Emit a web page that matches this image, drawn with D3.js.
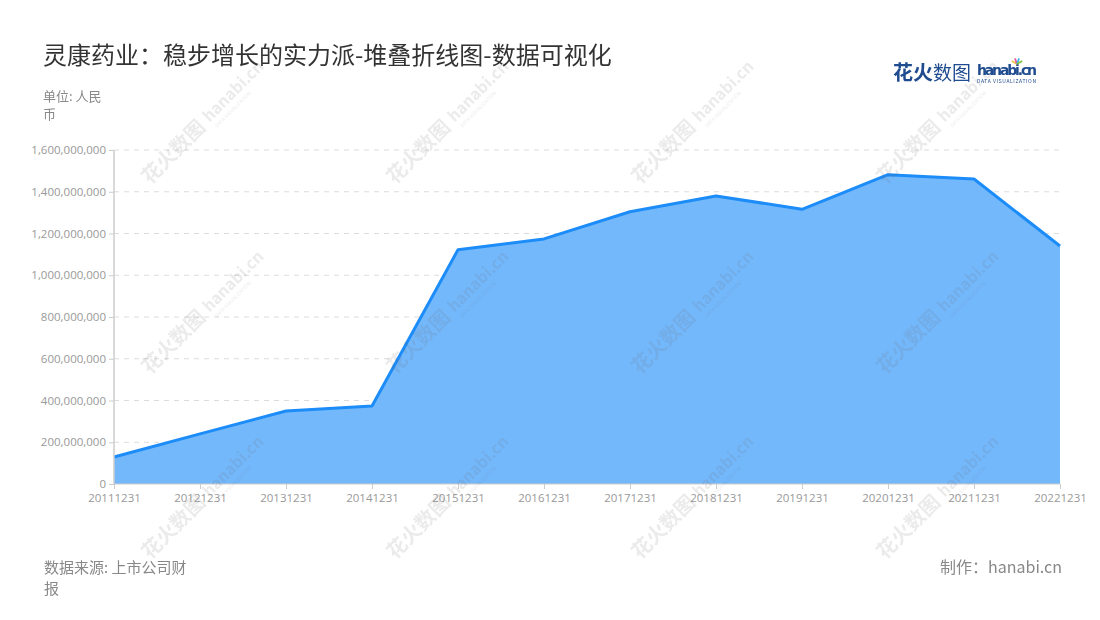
<!DOCTYPE html>
<html><head><meta charset="utf-8">
<script src="https://cdn.jsdelivr.net/npm/d3@7"></script>
<style>body{margin:0;background:#fff;font-family:"Noto Sans CJK SC","Noto Sans",sans-serif;}</style>
</head><body><svg id="c" width="1100" height="620"></svg>
<script>
const categories = ["20111231","20121231","20131231","20141231","20151231","20161231","20171231","20181231","20191231","20201231","20211231","20221231"];
const values = [129000000,240000000,350000000,374000000,1122000000,1174000000,1304000000,1380000000,1316000000,1482000000,1461000000,1140000000];
const yTicks = [0,200000000,400000000,600000000,800000000,1000000000,1200000000,1400000000,1600000000];

const svg = d3.select("#c");
const m={l:114,r:1060,t:150,b:484};
const x = d3.scalePoint().domain(categories).range([m.l,m.r]);
const y = d3.scaleLinear().domain([0,1600000000]).range([m.b,m.t]);

// grid
svg.append("g").selectAll("line").data(yTicks.filter(d=>d>0)).join("line")
  .attr("x1",m.l).attr("x2",m.r).attr("y1",d=>y(d)).attr("y2",d=>y(d))
  .attr("stroke","#dcdcdc").attr("stroke-dasharray","5,5");

// area and line
svg.append("path").datum(values).attr("fill","#74b8fc")
  .attr("d",d3.area().x((d,i)=>x(categories[i])).y0(y(0)).y1(d=>y(d)));
svg.append("path").datum(values).attr("fill","none").attr("stroke","#1c8cf8").attr("stroke-width",3).attr("stroke-linejoin","round")
  .attr("d",d3.line().x((d,i)=>x(categories[i])).y(d=>y(d)));

// y axis
const ya = svg.append("g").attr("transform",`translate(${m.l},0)`)
  .call(d3.axisLeft(y).tickValues(yTicks).tickSize(5).tickPadding(3).tickFormat(d3.format(",")));
ya.select(".domain").attr("stroke","#cccccc").attr("stroke-width",1.5).attr("d",`M0,${m.b}V${m.t}`);
ya.selectAll(".tick line").attr("stroke","#cccccc");
ya.selectAll("text").attr("fill","#999").attr("font-size",11.5).attr("font-family","'Open Sans','Noto Sans',sans-serif");

// x axis
const xa = svg.append("g").attr("transform",`translate(0,${m.b})`)
  .call(d3.axisBottom(x).tickSize(5).tickPadding(5));
xa.select(".domain").attr("stroke","#cccccc").attr("d",`M${m.l},0H${m.r}`);
xa.selectAll(".tick line").attr("stroke","#cccccc");
xa.selectAll("text").attr("fill","#999").attr("font-size",11.5).attr("font-family","'Open Sans','Noto Sans',sans-serif");

// watermarks (on top, faint)
const wm = svg.append("g").attr("opacity",0.13).attr("pointer-events","none");
[[150,185],[395,185],[640,185],[885,185],[150,375],[395,375],[640,375],[885,375],[150,560],[395,560],[640,560],[885,560]].forEach(([cx,cy])=>{
  const g = wm.append("g").attr("transform",`translate(${cx},${cy}) rotate(-45)`);
  g.append("text").attr("x",0).attr("y",0).attr("font-size",20).attr("font-weight","bold").attr("fill","#666").text("花火数图");
  g.append("text").attr("x",86).attr("y",-2).attr("font-size",16).attr("font-weight","bold").attr("fill","#666").text("hanabi.cn");
  g.append("text").attr("x",88).attr("y",7).attr("font-size",5).attr("fill","#666").text("DATA VISUALIZATION");
});

// title
svg.append("text").attr("x",43).attr("y",64).attr("font-size",24).attr("fill","#333").text("灵康药业：稳步增长的实力派-堆叠折线图-数据可视化");
svg.append("text").attr("x",43).attr("y",101).attr("font-size",13).attr("fill","#888").text("单位: 人民");
svg.append("text").attr("x",43).attr("y",119).attr("font-size",13).attr("fill","#888").text("币");

// footer
svg.append("text").attr("x",44).attr("y",573).attr("font-size",15).attr("fill","#888").text("数据来源: 上市公司财");
svg.append("text").attr("x",44).attr("y",594).attr("font-size",15).attr("fill","#888").text("报");
svg.append("text").attr("x",1062).attr("y",573).attr("text-anchor","end").attr("font-size",16).attr("fill","#888").text("制作：hanabi.cn");

// logo
const lg = svg.append("g");
lg.append("text").attr("x",893).attr("y",80).attr("font-size",20).attr("font-weight","bold").attr("fill","#1f4b8f").text("花火");
lg.append("text").attr("x",933).attr("y",80).attr("font-size",19).attr("fill","#1f4b8f").text("数图");
lg.append("text").attr("x",977).attr("y",75).attr("font-size",14).attr("font-weight","bold").attr("fill","#1f4b8f").attr("font-family","'DejaVu Sans',sans-serif").attr("textLength",60).text("hanabi.cn");
lg.append("text").attr("x",977).attr("y",82.5).attr("font-size",5).attr("fill","#1f4b8f").attr("textLength",59).text("DATA VISUALIZATION");
[["#f6c343",-60],["#e85d9c",-20],["#3fb6e8",20],["#7dc242",60]].forEach(([c,a])=>{
  lg.append("line").attr("x1",1017).attr("y1",64).attr("x2",1017+6*Math.sin(a*Math.PI/180)).attr("y2",64-6*Math.cos(a*Math.PI/180)).attr("stroke",c).attr("stroke-width",1.8);
});
</script></body></html>
